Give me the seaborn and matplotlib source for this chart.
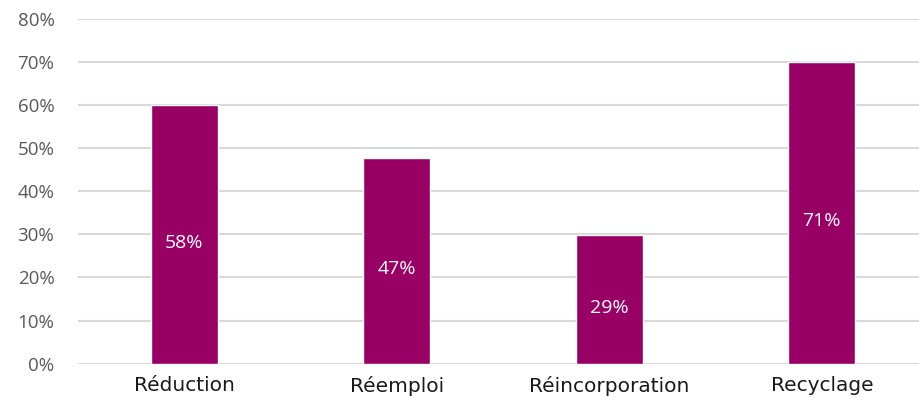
import numpy as np
import pandas as pd
import seaborn as sns
import matplotlib.pyplot as plt

categories = ['Réduction', 'Réemploi', 'Réincorporation', 'Recyclage']
bar_values = [0.60, 0.477, 0.298, 0.70]   # bar heights
bar_labels = ['58%', '47%', '29%', '71%']  # labels printed inside the bars
y_ticks = [0, 0.1, 0.2, 0.3, 0.4, 0.5, 0.6, 0.7, 0.8]

sns.set_theme(style='white')
plt.rcParams['font.family'] = ['Open Sans', 'DejaVu Sans']

df = pd.DataFrame({'cat': categories, 'val': bar_values})

fig = plt.figure(figsize=(9.2, 4), dpi=100)
ax = fig.add_axes([0.0848, 0.091, 0.924, 0.862])
sns.barplot(data=df, x='cat', y='val', color='#990066', saturation=1,
            width=0.316, ax=ax, zorder=3)

ax.set_xlim(-0.5, 3.5)
ax.set_ylim(0, 0.8)
ax.set_yticks(y_ticks)
ax.set_yticklabels(['%d%%' % round(t * 100) for t in y_ticks],
                   color='#595959', fontsize=13.5)
ax.set_xticks(range(len(categories)))
# wide font stands in for the letter-spaced labels of the original
ax.set_xticklabels(categories, family=['DejaVu Sans'], fontsize=14.5,
                   color='#1a1a1a')
ax.grid(axis='y', color='#d9d9d9', linewidth=1.5, zorder=0)
ax.set_axisbelow(True)
for s in ax.spines.values():
    s.set_visible(False)
ax.tick_params(axis='both', length=0)
ax.tick_params(axis='y', pad=17)
ax.tick_params(axis='x', pad=9)
ax.set_xlabel('')
ax.set_ylabel('')

for i, (v, lab) in enumerate(zip(bar_values, bar_labels)):
    ax.annotate(lab, (i, v / 2), xytext=(0, -6), textcoords='offset points',
                ha='center', va='center', color='white', fontsize=14)

fig.savefig('out.png', dpi=100)
